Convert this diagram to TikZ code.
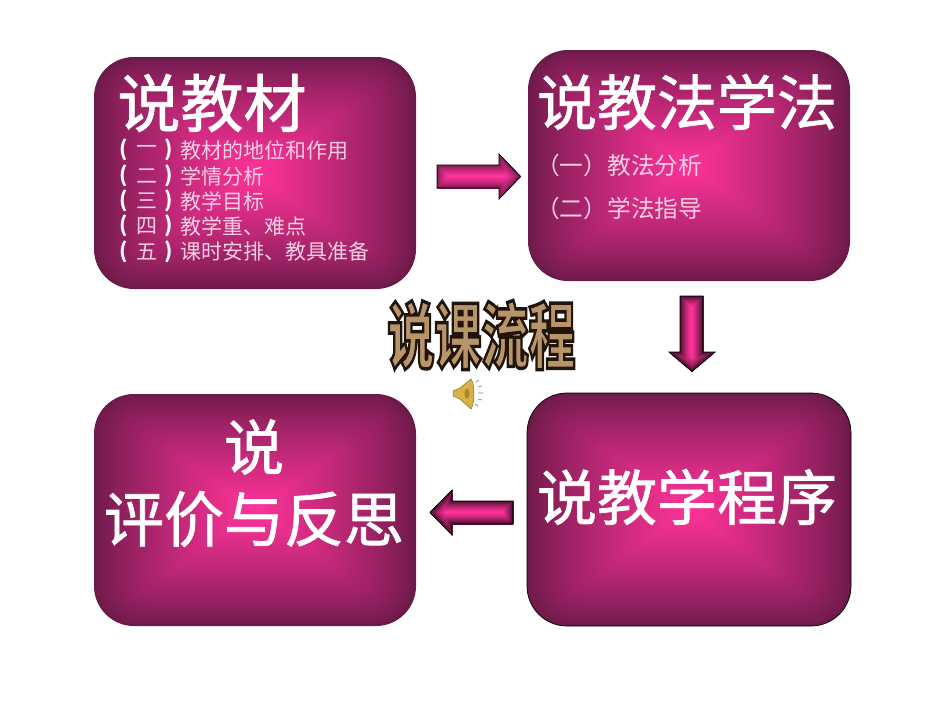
\documentclass[tikz,border=0pt]{standalone}
\usepackage{fontspec}
\setmainfont{Noto Sans CJK SC}
\newfontfamily\titlefont[FakeBold=1.2]{Noto Sans CJK SC}
\usetikzlibrary{calc}
\definecolor{hotpink}{HTML}{FF3399}
\definecolor{edgeplum}{HTML}{6C1A4A}
\definecolor{arrowdark}{HTML}{300A20}
\definecolor{listpink}{HTML}{F6CFE4}
\definecolor{tan}{HTML}{B8946A}
\definecolor{gold}{HTML}{D8B048}
\definecolor{golddark}{HTML}{8A6A20}
\tikzset{
  panel/.style={inner sep=0pt,outer sep=0pt},
  titletext/.style={text=white,font=\titlefont\fontsize{60}{64}\selectfont,inner sep=0pt,align=center},
  listtext/.style={text=listpink,font=\fontsize{21}{24}\selectfont,inner sep=0pt,anchor=west},
  bigline/.style={text=listpink,font=\fontsize{23.7}{26}\selectfont,inner sep=0pt,anchor=west},
  paren/.style={text=white,font=\bfseries\fontsize{21}{24}\selectfont,inner sep=0pt},
  wordart/.style={font=\bfseries\fontsize{47}{50}\selectfont,inner sep=0pt,yscale=1.55,transform shape},
}
% name, x1, y1, x2, y2
\newcommand{\gradpanel}[5]{%
  \foreach \i in {0,...,60}{%
    \pgfmathsetmacro{\tf}{1-\i/60}%
    \pgfmathsetmacro{\pc}{100*(\i/60)^0.8}%
    \colorlet{stepcol}{hotpink!\pc!edgeplum}%
    \pgfmathsetmacro{\cxx}{(#2+#4)/2}%
    \pgfmathsetmacro{\cyy}{(#3+#5)/2}%
    \pgfmathsetmacro{\hw}{(#4-#2)/2*\tf}%
    \pgfmathsetmacro{\hh}{(#5-#3)/2*\tf}%
    \pgfmathsetmacro{\rr}{max(0.1,40*\tf*\tf)}%
    \fill[stepcol,rounded corners=\rr pt] (\cxx-\hw,\cyy-\hh) rectangle (\cxx+\hw,\cyy+\hh);
  }%
  \node[panel,minimum width=#4pt-#2pt,minimum height=#5pt-#3pt] (#1) at ({(#2+#4)/2},{(#3+#5)/2}) {};
}
% path, edge colour, max inset
\newcommand{\gradarrow}[3]{%
  \begin{scope}
    \clip #1;
    \fill[hotpink] #1;
    \foreach \j in {24,...,0}{%
      \pgfmathsetmacro{\dd}{#3*\j/24}%
      \pgfmathsetmacro{\pc}{100*(\j/24)^0.7}%
      \colorlet{stepcol}{hotpink!\pc!#2}%
      \draw[stepcol,line width=2*\dd pt+0.2pt] #1;
    }%
  \end{scope}
  \draw[black,line width=0.7pt] #1;
}
\begin{document}
\begin{tikzpicture}[x=1pt,y=-1pt]
\useasboundingbox (0,0) rectangle (950,713);
\fill[white] (0,0) rectangle (950,713);

% panels
\gradpanel{matbox}{94}{57}{416}{289}
\gradpanel{methodbox}{528}{50}{850}{281}
\gradpanel{procbox}{527}{393}{851}{626}
\draw[black,line width=0.7pt,rounded corners=40pt] (527,393) rectangle (851,626);
\gradpanel{evalbox}{94}{394}{416}{626}

% block arrows
\gradarrow{(437,165) -- (499,165) -- (499,154) -- (520.5,176.5) -- (499,199) -- (499,188) -- (437,188) -- cycle}{edgeplum}{11}
\gradarrow{(680,296) -- (703,296) -- (703,352) -- (715,352) -- (692,371.5) -- (669,352) -- (680,352) -- cycle}{arrowdark}{11}
\gradarrow{(513,501) -- (452,501) -- (452,490) -- (430,512.5) -- (452,535) -- (452,524) -- (513,524) -- cycle}{arrowdark}{11}

% titles
\node[titletext,font=\titlefont\fontsize{63}{64}\selectfont,anchor=center] (mattitle) at (212,103) {说教材};
\node[titletext] (methodtitle) at (687,102) {说教法学法};
\node[titletext] (proctitle) at (687,497) {说教学程序};
\node[titletext,anchor=center] (evaltitle1) at (254,447) {说};
\node[titletext,anchor=center] (evaltitle2) at (254,519) {评价与反思};

% list in the first panel
\foreach \nm/\y/\num/\txt in {a/150/一/教材的地位和作用,b/176/二/学情分析,c/201/三/教学目标,d/226/四/教学重、难点,e/252/五/课时安排、教具准备}{
  \node[paren] (open\nm) at (124,\y) {(};
  \node[text=listpink,font=\fontsize{21}{24}\selectfont,inner sep=0pt] (num\nm) at (147,\y) {\num};
  \node[paren] (close\nm) at (169,\y) {)};
  \node[listtext] (item\nm) at (180,\y) {\txt};
}

% list in the second panel
\node[bigline] (methodone) at (536,165) {（一）教法分析};
\node[bigline] (methodtwo) at (536,208) {（二）学法指导};

% word art: one text, tan fill with a heavy dark outline
\node[wordart,text=tan] (art) at (481.5,335) {\special{pdf:code 2 Tr 0.13 0.08 0.04 RG 2.2 w}说课流程\special{pdf:code 0 Tr 1 w}};

% speaker icon
\fill[gold,draw=golddark,line width=0.5pt] (453,391) -- (460,388) -- (471,379) .. controls (475,385) and (475,403) .. (471,409) -- (460,399) -- (453,396) -- cycle;
\fill[golddark!60!gold] (467,393.5) ellipse (2.5 and 5);
\draw[gray,line width=0.7pt] (476,382) -- (479,380) (478,387) -- (482,386) (478,393) -- (483,393) (478,399) -- (482,400) (475,404) -- (478,406);
\end{tikzpicture}
\end{document}
